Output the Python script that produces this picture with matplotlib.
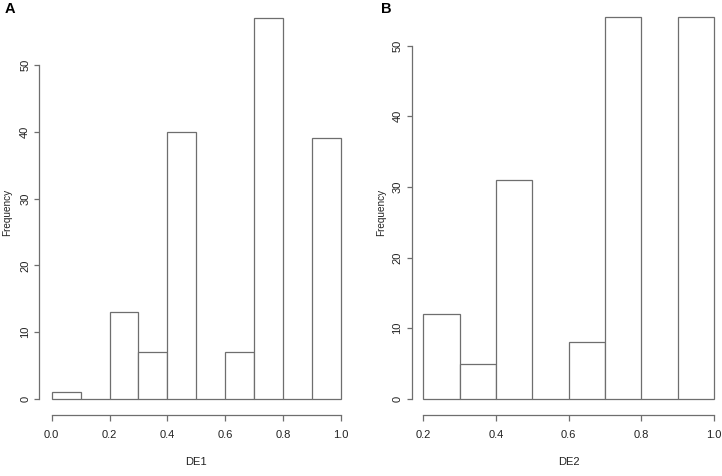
import numpy as np
import matplotlib
matplotlib.use("Agg")
import matplotlib.pyplot as plt

# histogram bins (edges) and counts
edges_de1 = [0.0, 0.1, 0.2, 0.3, 0.4, 0.5, 0.6, 0.7, 0.8, 0.9, 1.0]
counts_de1 = [1, 0, 13, 7, 40, 0, 7, 57, 0, 39]
xticks_de1 = [0.0, 0.2, 0.4, 0.6, 0.8, 1.0]

edges_de2 = [0.2, 0.3, 0.4, 0.5, 0.6, 0.7, 0.8, 0.9, 1.0]
counts_de2 = [12, 5, 31, 0, 8, 54, 0, 54]
xticks_de2 = [0.2, 0.4, 0.6, 0.8, 1.0]

yticks = [0, 10, 20, 30, 40, 50]

W, H = 722, 476
plt.rcParams['font.family'] = ['Liberation Sans', 'DejaVu Sans']

fig = plt.figure(figsize=(W / 100, H / 100), dpi=100)

line_col = "#6e6e6e"
text_col = "#222222"


# pixel layout: spine position, where two x values and y=0 land, px per count
def make_panel(left_px, right_px, x0_val, x0_px, x1_val, x1_px, ppu_y,
               zero_px=399, bottom_px=415, top_px=4):
    sx = (x1_px - x0_px) / (x1_val - x0_val)
    xlim = (x0_val - (x0_px - left_px) / sx, x0_val + (right_px - x0_px) / sx)
    ylim = (-(bottom_px - zero_px) / ppu_y, (zero_px - top_px) / ppu_y)
    ax = fig.add_axes([left_px / W, (H - bottom_px) / H,
                       (right_px - left_px) / W, (bottom_px - top_px) / H])
    ax.set_xlim(*xlim)
    ax.set_ylim(*ylim)
    return ax


def draw_hist(ax, edges, counts, xticks, xlabel, letter, letter_px, ylab_px):
    e = np.array(edges)
    ax.bar(e[:-1], counts, width=np.diff(e), align='edge', color='white',
           edgecolor=line_col, linewidth=0.9, clip_on=False)
    for s in ['top', 'right']:
        ax.spines[s].set_visible(False)
    for s in ['left', 'bottom']:
        ax.spines[s].set_color(line_col)
        ax.spines[s].set_linewidth(0.9)
    ax.spines['left'].set_bounds(0, 50)
    ax.spines['bottom'].set_bounds(xticks[0], xticks[-1])
    ax.set_xticks(xticks)
    ax.set_xticklabels(["%.1f" % t for t in xticks])
    ax.set_yticks(yticks)
    ax.set_yticklabels([str(t) for t in yticks], rotation=90, va='center')
    ax.tick_params(axis='x', length=4.3, width=0.9, color=line_col, pad=6.5,
                   labelsize=8, labelcolor=text_col)
    ax.tick_params(axis='y', length=3.6, width=0.9, color=line_col, pad=3,
                   labelsize=8, labelcolor=text_col)
    for lab in ax.get_xticklabels():
        lab.set_family(['Liberation Sans Narrow', 'Liberation Sans'])
    # axis titles and panel letter
    fig.text(xlabel[1] / W, 1 - 462 / H, xlabel[0], ha='center', va='center',
             fontsize=8, color=text_col,
             family=['Liberation Sans Narrow', 'Liberation Sans'])
    fig.text(ylab_px / W, 1 - 212 / H, "Frequency", rotation=90,
             ha='center', va='center', fontsize=7.2, color=text_col)
    fig.text(letter_px / W, 1 - 9 / H, letter, ha='center', va='center',
             fontsize=10.5, fontweight='bold', color='black')


axA = make_panel(39.3, 356, 0.0, 51.7, 1.0, 341, 6.68)
draw_hist(axA, edges_de1, counts_de1, xticks_de1, ("DE1", 196), "A", 10, 7.5)

axB = make_panel(411.7, 722, 0.2, 423.3, 1.0, 714, 7.07)
draw_hist(axB, edges_de2, counts_de2, xticks_de2, ("DE2", 569), "B", 386, 381)

fig.savefig("out.png", dpi=100)
